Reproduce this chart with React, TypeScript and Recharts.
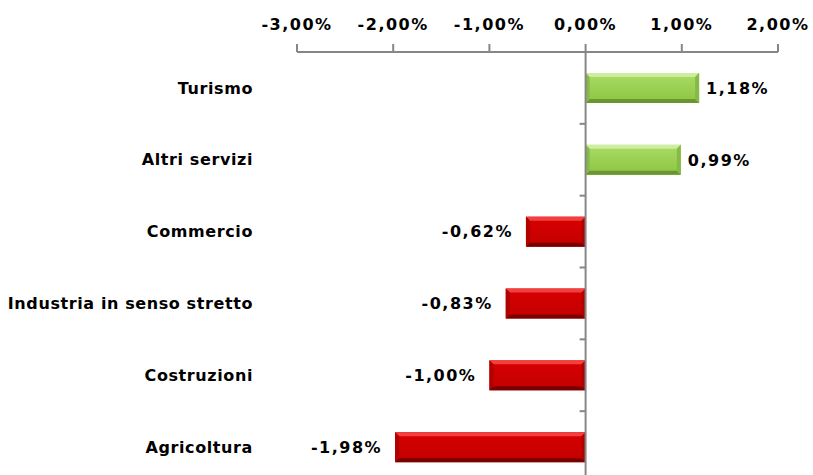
import { BarChart, Bar, XAxis, YAxis, Cell, LabelList, ReferenceLine } from "recharts";

const categories = [
  "Turismo",
  "Altri servizi",
  "Commercio",
  "Industria in senso stretto",
  "Costruzioni",
  "Agricoltura",
];
const variations = [1.18, 0.99, -0.62, -0.83, -1.0, -1.98];
const xTicks = [-3, -2, -1, 0, 1, 2];

const data = categories.map((name, i) => ({ name, value: variations[i] }));

const FONT = "'DejaVu Sans', Verdana, sans-serif";
const AXIS = "#868686";

const fmt = (v: number) => `${v.toFixed(2).replace(".", ",")}%`;

const palette = {
  pos: { top: "#cdeda0", face1: "#a9dc66", face2: "#8dc440", side: "#86ba48", bottom: "#6a9630" },
  neg: { top: "#f24040", face1: "#d80000", face2: "#c20000", side: "#b00000", bottom: "#7a0000" },
};

function BevelBar(props: any) {
  const { x, y, width, height, value } = props;
  const x0 = Math.min(x, x + width);
  const w = Math.abs(width);
  const h = Math.abs(height);
  if (!w) return null;
  const c = value >= 0 ? palette.pos : palette.neg;
  const id = value >= 0 ? "gPos" : "gNeg";
  const b = Math.min(4, w / 2);
  return (
    <g>
      <rect x={x0} y={y} width={w} height={h} fill={`url(#${id})`} />
      <polygon points={`${x0},${y} ${x0 + w},${y} ${x0 + w - b},${y + b} ${x0 + b},${y + b}`} fill={c.top} />
      <polygon points={`${x0},${y + h} ${x0 + w},${y + h} ${x0 + w - b},${y + h - b} ${x0 + b},${y + h - b}`} fill={c.bottom} />
      <polygon points={`${x0},${y} ${x0 + b},${y + b} ${x0 + b},${y + h - b} ${x0},${y + h}`} fill={c.side} />
      <polygon points={`${x0 + w},${y} ${x0 + w - b},${y + b} ${x0 + w - b},${y + h - b} ${x0 + w},${y + h}`} fill={c.side} />
    </g>
  );
}

function ValueLabel(props: any) {
  const { x, y, width, height, value } = props;
  const left = Math.min(x, x + width);
  const right = Math.max(x, x + width);
  const pos = value >= 0;
  return (
    <text
      x={pos ? right + 7 : left - 13}
      y={y + height / 2}
      dy="0.36em"
      textAnchor={pos ? "start" : "end"}
      fontFamily={FONT}
      fontSize={16}
      fontWeight="bold"
      letterSpacing={1.5}
      fill="#000"
    >
      {fmt(value)}
    </text>
  );
}

// vertical axis at 0 with category boundary ticks
function ZeroAxis(props: any) {
  const { x1, y1, y2 } = props;
  const top = Math.min(y1, y2);
  const bottom = Math.max(y1, y2);
  const step = (bottom - top) / categories.length;
  return (
    <g>
      <line x1={x1} x2={x1} y1={top} y2={bottom} stroke={AXIS} strokeWidth={2} />
      {categories.slice(1).map((c, i) => (
        <line
          key={c}
          x1={x1 - 6}
          x2={x1}
          y1={top + (i + 1) * step}
          y2={top + (i + 1) * step}
          stroke={AXIS}
          strokeWidth={2}
        />
      ))}
    </g>
  );
}

export default function App() {
  return (
    <div
      style={{
        position: "fixed",
        top: 0,
        left: 0,
        width: 813,
        height: 475,
        overflow: "hidden",
        background: "#fff",
      }}
    >
      <BarChart
        width={813}
        height={486}
        data={data}
        layout="vertical"
        barSize={30}
        margin={{ top: 0, right: 35, bottom: 3, left: 0 }}
      >
        <defs>
          <linearGradient id="gPos" x1="0" y1="0" x2="0" y2="1">
            <stop offset="0%" stopColor={palette.pos.face1} />
            <stop offset="100%" stopColor={palette.pos.face2} />
          </linearGradient>
          <linearGradient id="gNeg" x1="0" y1="0" x2="0" y2="1">
            <stop offset="0%" stopColor={palette.neg.face1} />
            <stop offset="100%" stopColor={palette.neg.face2} />
          </linearGradient>
        </defs>
        <XAxis
          type="number"
          orientation="top"
          domain={[-3, 2]}
          ticks={xTicks}
          height={52}
          tickFormatter={fmt}
          tickSize={8}
          tickMargin={14}
          axisLine={{ stroke: AXIS, strokeWidth: 2 }}
          tickLine={{ stroke: AXIS, strokeWidth: 2 }}
          tick={{ fill: "#000", fontSize: 16, fontWeight: "bold", fontFamily: FONT, letterSpacing: 1.5 }}
        />
        <YAxis
          type="category"
          dataKey="name"
          width={297}
          axisLine={false}
          tickLine={false}
          tickSize={0}
          tickMargin={44}
          tick={{ fill: "#000", fontSize: 16, fontWeight: "bold", fontFamily: FONT, letterSpacing: 0.6 }}
        />
        <ReferenceLine x={0} shape={<ZeroAxis />} />
        <Bar dataKey="value" isAnimationActive={false} shape={<BevelBar />}>
          {data.map((d) => (
            <Cell key={d.name} fill={d.value >= 0 ? "#92d050" : "#c00000"} />
          ))}
          <LabelList dataKey="value" content={<ValueLabel />} />
        </Bar>
      </BarChart>
    </div>
  );
}
